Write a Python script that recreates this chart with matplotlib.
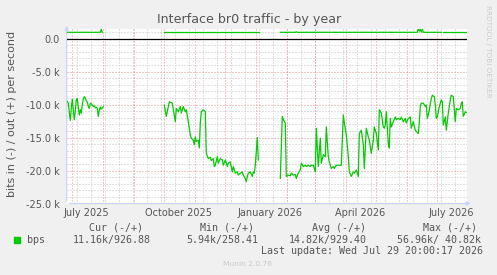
import datetime as dt
import matplotlib
matplotlib.use('Agg')
import matplotlib.pyplot as plt
import matplotlib.dates as mdates
from matplotlib.patches import Rectangle

W, H = 497, 275
BASE = dt.datetime(2025, 7, 1)   # day 0 of the day counters below

# daily averages in kbit/s, "in" is drawn below zero (munin style)
in1_day = list(range(-5, 32))
in1_kbps = [9.5, 9.8, 11.2, 12.4, 10.5, 9.2, 10.8, 12.3, 11.0, 9.3, 9.1, 10.5, 11.6,
            10.8, 11.3, 10.0, 9.2, 8.8, 9.0, 9.4, 9.7, 10.3, 10.6, 9.8, 9.9, 10.1,
            10.3, 10.2, 10.5, 10.4, 10.6, 11.8, 10.9, 10.4, 10.7, 10.5, 10.3]

in2_day = [92, 94, 97, 99, 100, 103, 104, 106, 108, 109, 111, 113, 114, 116, 118, 119,
           121, 122, 123, 124, 126, 127, 128, 129, 131, 133, 134, 136, 138, 139, 141,
           142, 143, 145, 146, 148, 150, 151, 153, 155, 156, 158, 160, 161, 163, 165,
           166, 168, 170, 171, 173, 174, 175, 176, 178, 180, 181, 182, 183, 185, 186]
in2_kbps = [10.1, 11.8, 9.6, 9.7, 9.8, 12.6, 10.6, 11.1, 10.3, 11.3, 10.3, 11.1, 10.8,
            12.6, 14.6, 15.1, 15.4, 16.1, 14.9, 15.6, 15.4, 16.6, 12.8, 11.1, 10.8,
            11.1, 17.4, 18.2, 18.0, 18.5, 18.2, 19.4, 19.2, 17.9, 18.9, 18.2, 18.4,
            19.2, 18.4, 19.4, 18.9, 18.7, 20.2, 19.4, 20.4, 20.2, 20.7, 20.4, 20.2,
            20.7, 21.2, 21.7, 20.9, 20.4, 20.2, 20.9, 20.2, 20.4, 19.2, 15.0, 18.4]

in3_day = [208, 210, 211, 213, 214, 216, 218, 219, 221, 223, 224, 226, 228, 229, 231,
           233, 234, 236, 238, 239, 241, 243, 244, 246, 248, 249, 251, 253, 254, 256,
           257, 259, 261, 262, 264, 266, 267, 269, 271, 272, 274, 276, 277, 279, 281,
           282, 284, 286, 287, 289, 291, 292, 294, 296, 297, 299, 301, 302, 304, 306,
           307, 309, 311, 312, 313, 314, 316, 317, 318, 319, 321, 323, 324, 326, 328,
           329, 331, 333, 334, 336, 338, 339, 341, 343, 344, 346, 347, 348, 349, 351,
           353, 354, 355, 357, 358, 360, 362, 363, 364, 365, 367, 369, 370, 371, 373,
           374, 376, 378, 379, 381, 383, 384, 386, 388, 389, 390, 391, 393, 394]
in3_kbps = [21.2, 11.8, 12.3, 12.8, 20.9, 20.7, 20.8, 20.4, 20.7, 20.6, 21.2, 20.4,
            19.9, 18.9, 19.4, 19.2, 19.4, 19.2, 19.4, 19.2, 19.2, 20.2, 13.6, 19.4,
            15.1, 18.9, 17.6, 17.9, 13.4, 17.9, 18.7, 19.7, 19.4, 19.7, 19.2, 19.2,
            19.2, 19.2, 11.6, 12.8, 14.6, 17.9, 20.2, 20.9, 20.2, 20.4, 19.9, 20.9,
            14.4, 13.9, 16.1, 19.7, 13.6, 14.9, 15.4, 17.4, 15.4, 13.4, 14.4, 16.9,
            10.8, 11.3, 13.4, 13.6, 13.1, 11.1, 15.9, 16.6, 12.1, 13.4, 12.6, 11.9,
            12.3, 12.1, 12.3, 11.9, 12.6, 12.1, 12.8, 12.1, 11.9, 13.6, 12.6, 13.9,
            14.1, 14.4, 12.8, 10.3, 9.8, 9.8, 10.3, 10.1, 12.1, 10.9, 9.8, 8.6, 8.8,
            10.1, 12.1, 11.9, 10.3, 9.3, 9.6, 13.1, 11.9, 13.9, 11.3, 9.3, 8.6, 8.8,
            12.6, 10.6, 10.8, 10.6, 9.8, 9.6, 11.8, 11.1, 11.2]

out1_day = [-5, 28, 29, 30]
out1_kbps = [0.94, 0.94, 1.39, 0.94]
out2_day = [92, 187]
out2_kbps = [0.94, 0.94]
out3_day = [208, 223, 224, 225, 345, 346, 347, 348, 349, 350, 351, 369]
out3_kbps = [0.94, 0.94, 1.02, 0.94, 0.94, 1.54, 1.10, 1.39, 1.00, 1.47, 0.94, 0.94]
out4_day = [371, 373]
out4_kbps = [0.94, 0.94]
out5_day = [374, 394]
out5_kbps = [0.94, 0.94]

month_labels = ["July 2025", "October 2025", "January 2026", "April 2026", "July 2026"]
label_dates = [dt.datetime(2025, 7, 15), dt.datetime(2025, 10, 15), dt.datetime(2026, 1, 15),
               dt.datetime(2026, 4, 15), dt.datetime(2026, 7, 15)]

stat_names = ["Cur (-/+)", "Min (-/+)", "Avg (-/+)", "Max (-/+)"]
stat_in = ["11.16k", "5.94k", "14.82k", "56.96k"]
stat_out = ["926.88", "258.41", "929.40", " 40.82k"]
last_update = "Last update: Wed Jul 29 20:00:17 2026"

GREEN = '#00CC00'
TXT = '#555555'
MINOR = '#C4C4C4'
MAJOR = '#E89090'
AXIS = '#C8D0FF'


def to_dates(days):
    return [BASE + dt.timedelta(days=d) for d in days]


fig = plt.figure(figsize=(W / 100, H / 100), dpi=100, facecolor='#F0F0F0')
ax = fig.add_axes([66.7 / W, (H - 203.5) / H, 400.3 / W, 174.5 / H])
ax.set_facecolor('white')

x0 = BASE + dt.timedelta(days=-5.6)
x1 = BASE + dt.timedelta(days=394.7)
ax.set_xlim(x0, x1)
ax.set_ylim(-25, 1.44)

dots = (0, (1, 2))
# minor grid: every 1k and every second Sunday
for v in range(-24, 2):
    if v % 5 != 0:
        ax.axhline(v, color=MINOR, lw=0.72, ls=dots, zorder=1)
d = dt.datetime(2025, 7, 6)
while d < x1:
    ax.axvline(d, color=MINOR, lw=0.72, ls=dots, zorder=1)
    d += dt.timedelta(days=14)
# major grid: every 5k and every month
for v in [-5, -10, -15, -20]:
    ax.axhline(v, color=MAJOR, lw=0.72, ls=dots, zorder=2)
for m in range(13):
    ax.axvline(dt.datetime(2025 + (6 + m) // 12, (6 + m) % 12 + 1, 1),
               color=MAJOR, lw=0.72, ls=dots, zorder=2)
ax.axhline(0, color='black', lw=0.9, zorder=4)

for days, vals in [(in1_day, in1_kbps), (in2_day, in2_kbps), (in3_day, in3_kbps)]:
    ax.plot(to_dates(days), [-v for v in vals], color=GREEN, lw=0.9, zorder=5)
for days, vals in [(out1_day, out1_kbps), (out2_day, out2_kbps), (out3_day, out3_kbps),
                   (out4_day, out4_kbps), (out5_day, out5_kbps)]:
    ax.plot(to_dates(days), vals, color=GREEN, lw=0.9, zorder=5)

for s in ax.spines.values():
    s.set_visible(False)
ax.annotate('', xy=(0, 1.035), xytext=(0, 0), xycoords='axes fraction',
            arrowprops=dict(arrowstyle='-|>', color=AXIS, lw=0.8, mutation_scale=6))
ax.annotate('', xy=(1.016, 0), xytext=(0, 0), xycoords='axes fraction',
            arrowprops=dict(arrowstyle='-|>', color=AXIS, lw=0.8, mutation_scale=6))

yt = [0, -5, -10, -15, -20, -25]
ax.set_yticks(yt)
ax.set_yticklabels(["0.0" if v == 0 else f"{v:.1f} k" for v in yt])
ax.set_xticks(label_dates)
ax.set_xticklabels(month_labels)
ax.tick_params(length=0, labelsize=7, labelcolor=TXT)
ax.tick_params(axis='y', pad=4.8)
ax.tick_params(axis='x', pad=3)

fig.text(249 / W, 1 - 19.5 / H, "Interface br0 traffic - by year", ha='center', va='center',
         fontsize=9.1, color=TXT)
fig.text(12 / W, 1 - 114 / H, "bits in (-) / out (+) per second", rotation=90,
         ha='center', va='center', fontsize=8, color=TXT)
fig.text(488 / W, 1 - 5 / H, "RRDTOOL / TOBI OETIKER", rotation=270, ha='center', va='top',
         fontsize=5.2, color='#CCCCCC')

mono = 'DejaVu Sans Mono'
for name, xl in zip(stat_names, [89, 200, 312, 423]):
    fig.text(xl / W, 1 - 227.7 / H, name, family=mono, fontsize=7.2, color=TXT,
             ha='left', va='center')
fig.patches.append(Rectangle((13.7 / W, 1 - 243 / H), 6 / W, 6 / H, color=GREEN,
                             transform=fig.transFigure, figure=fig))
fig.text(26.7 / W, 1 - 240 / H, "bps", family=mono, fontsize=7.2, color=TXT,
         ha='left', va='center')
for vi, vo, xl in zip(stat_in, stat_out, [72.7, 186.7, 289, 397]):
    fig.text(xl / W, 1 - 240 / H, f"{vi}/{vo}", family=mono, fontsize=7.2, color=TXT,
             ha='left', va='center')
fig.text(482.7 / W, 1 - 251.3 / H, last_update, family=mono, fontsize=7.2, color=TXT,
         ha='right', va='center')
fig.text(247.5 / W, 1 - 264.3 / H, "Munin 2.0.76", fontsize=5.4, color='#C8C8C8',
         ha='center', va='center')

fig.savefig('out.png', dpi=100, facecolor=fig.get_facecolor())
